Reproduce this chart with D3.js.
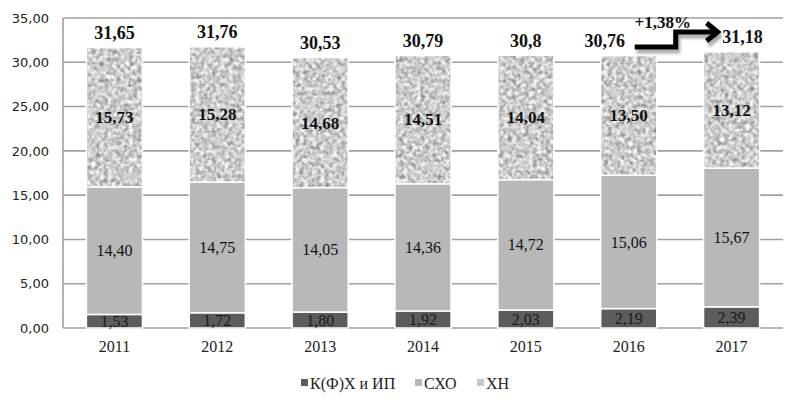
<!DOCTYPE html>
<html><head><meta charset="utf-8">
<script src="https://cdn.jsdelivr.net/npm/d3@7"></script>
<style>body{margin:0;background:#fff}svg{display:block}</style>
</head><body>
<svg id="c" width="803" height="407"></svg>
<script>
const years = ["2011","2012","2013","2014","2015","2016","2017"];
const kfh = [1.53,1.72,1.80,1.92,2.03,2.19,2.39];
const sho = [14.40,14.75,14.05,14.36,14.72,15.06,15.67];
const hn = [15.73,15.28,14.68,14.51,14.04,13.50,13.12];
const totals = ["31,65","31,76","30,53","30,79","30,8","30,76","31,18"];
const totalVals = [31.65,31.76,30.53,30.79,30.8,30.76,31.18];
const yTicks = [0,5,10,15,20,25,30,35];
const seriesNames = ["К(Ф)Х и ИП","СХО","ХН"];
const growthLabel = "+1,38%";

const svg = d3.select("#c");
const L=63, R=783, T=18, B=328;
const x = d3.scaleBand().domain(years).range([L,R]).paddingInner(0.455).paddingOuter(0.2275);
const y = d3.scaleLinear().domain([0,35]).range([B,T]);
const fmt = v => v.toFixed(2).replace(".",",");

// granite filter
const defs = svg.append("defs");
const f = defs.append("filter").attr("id","granite").attr("x",0).attr("y",0).attr("width",1).attr("height",1)
  .attr("filterUnits","objectBoundingBox");
f.append("feTurbulence").attr("type","fractalNoise").attr("baseFrequency","0.24").attr("numOctaves",2).attr("seed",7).attr("result","n");
f.append("feColorMatrix").attr("in","n").attr("type","matrix")
  .attr("values","0.9 0.9 0 0 -0.4  0.9 0.9 0 0 -0.4  0.9 0.9 0 0 -0.4  0 0 0 0 1").attr("result","g");
const ct = f.append("feComponentTransfer").attr("in","g").attr("result","c");
["feFuncR","feFuncG","feFuncB"].forEach(k=>ct.append(k).attr("type","table").attr("tableValues","0.25 0.33 0.45 0.6 0.78 0.92 1"));
f.append("feComposite").attr("in","c").attr("in2","SourceGraphic").attr("operator","in");
const sh = defs.append("filter").attr("id","shadow").attr("x","-20%").attr("y","-50%").attr("width","140%").attr("height","200%");
sh.append("feGaussianBlur").attr("stdDeviation",1.5);

// gridlines
svg.append("g").selectAll("line").data(yTicks).join("line")
  .attr("x1",L).attr("x2",R).attr("y1",d=>y(d)).attr("y2",d=>y(d))
  .attr("stroke","#a0a0a0").attr("stroke-width",1.6);
svg.append("line").attr("x1",L).attr("x2",L).attr("y1",T).attr("y2",B).attr("stroke","#a0a0a0").attr("stroke-width",1.6);

// y tick labels
const yAxis = d3.axisLeft(y).tickValues(yTicks).tickFormat(fmt).tickSize(0).tickPadding(14);
const ya = svg.append("g").attr("transform",`translate(${L},0)`).call(yAxis);
ya.select(".domain").remove();
ya.selectAll("text").attr("font-family","DejaVu Sans, sans-serif").attr("font-size",13).attr("fill","#222");

// x labels
const xAxis = d3.axisBottom(x).tickSize(0).tickPadding(13);
const xa = svg.append("g").attr("transform",`translate(0,${B})`).call(xAxis);
xa.select(".domain").remove();
xa.selectAll("text").attr("font-family","Liberation Serif, serif").attr("font-size",16).attr("fill","#222");

// bars
const bw = x.bandwidth();
const g = svg.append("g");
years.forEach((yr,i)=>{
  const x0 = x(yr);
  const b1 = 0, t1 = kfh[i], t2 = kfh[i]+sho[i], t3 = kfh[i]+sho[i]+hn[i];
  g.append("rect").attr("x",x0).attr("width",bw).attr("y",y(t1)).attr("height",y(b1)-y(t1))
    .attr("fill","#5c5c5c").attr("stroke","#fff").attr("stroke-width",1.5);
  g.append("rect").attr("x",x0).attr("width",bw).attr("y",y(t2)).attr("height",y(t1)-y(t2))
    .attr("fill","#b8b8b8").attr("stroke","#fff").attr("stroke-width",1.5);
  g.append("rect").attr("x",x0).attr("width",bw).attr("y",y(t3)).attr("height",y(t2)-y(t3))
    .attr("fill","#999").attr("filter","url(#granite)");
  g.append("rect").attr("x",x0).attr("width",bw).attr("y",y(t3)).attr("height",y(t2)-y(t3))
    .attr("fill","none").attr("stroke","#fff").attr("stroke-width",1.5);
  const cx = x0+bw/2;
  g.append("text").attr("x",cx).attr("y",y(t1/2)).attr("dy","0.35em").attr("text-anchor","middle")
    .attr("font-family","Liberation Serif, serif").attr("font-size",16).attr("fill","#1a1a1a").text(fmt(kfh[i]));
  g.append("text").attr("x",cx).attr("y",y((t1+t2)/2)).attr("dy","0.35em").attr("text-anchor","middle")
    .attr("font-family","Liberation Serif, serif").attr("font-size",16).attr("fill","#111").text(fmt(sho[i]));
  g.append("text").attr("x",cx).attr("y",y((t2+t3)/2)).attr("dy","0.35em").attr("text-anchor","middle")
    .attr("font-family","Liberation Serif, serif").attr("font-size",17).attr("font-weight","bold").attr("fill","#111").text(fmt(hn[i]));
  let dx = 0;
  if (i===5) dx = -24;
  if (i===6) dx = 11;
  g.append("text").attr("x",cx+dx).attr("y",y(totalVals[i])-15).attr("dy","0.35em").attr("text-anchor","middle")
    .attr("font-family","Liberation Serif, serif").attr("font-size",18).attr("font-weight","bold").attr("fill","#111").text(totals[i]);
});

// growth arrow
const c6 = x(years[5])+bw/2, c7 = x(years[6])+bw/2;
const ax0 = c6+6, ay0 = 47, axm = c6+47, ay1 = 32, axt = c7-14;
const arrowPath = `M${ax0},${ay0} H${axm} V${ay1} H${axt-2}`;
const headPath = `M${axt-11},${ay1-9} L${axt},${ay1} L${axt-11},${ay1+9}`;
const ag = svg.append("g");
[[arrowPath],[headPath]].forEach(([p])=>{
  ag.append("path").attr("d",p).attr("transform","translate(2,4)").attr("fill","none").attr("stroke","#888").attr("stroke-width",5).attr("filter","url(#shadow)").attr("opacity",0.7);
});
ag.append("path").attr("d",arrowPath).attr("fill","none").attr("stroke","#000").attr("stroke-width",5);
ag.append("path").attr("d",headPath).attr("fill","none").attr("stroke","#000").attr("stroke-width",5).attr("stroke-linejoin","miter");
ag.append("text").attr("x",c6+34).attr("y",22).attr("dy","0.35em").attr("text-anchor","middle")
  .attr("font-family","Liberation Serif, serif").attr("font-size",17).attr("font-weight","bold").attr("fill","#111").text(growthLabel);

// legend
const legX = [301,415,477];
const legColors = ["#5c5c5c","#b8b8b8","#c8c8c8"];
const lg = svg.append("g");
seriesNames.forEach((n,i)=>{
  lg.append("rect").attr("x",legX[i]).attr("y",379).attr("width",7).attr("height",7).attr("fill",legColors[i]);
  lg.append("text").attr("x",legX[i]+9).attr("y",383).attr("dy","0.35em")
    .attr("font-family","Liberation Serif, serif").attr("font-size",16).attr("fill","#222").text(n);
});
</script>
</body></html>
